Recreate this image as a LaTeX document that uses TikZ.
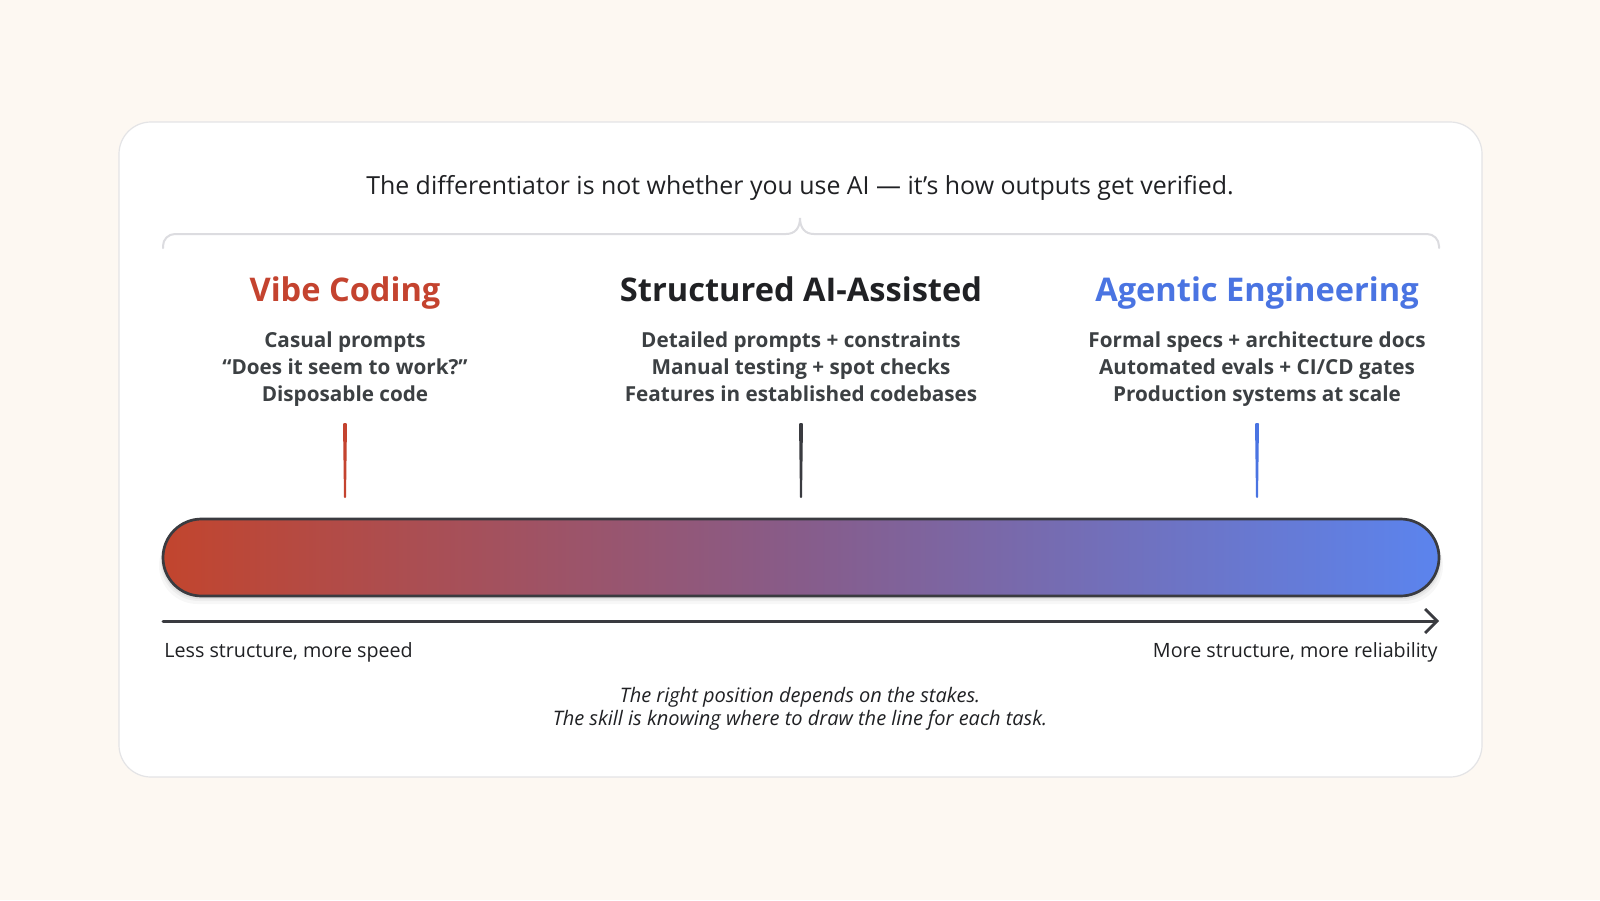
\documentclass[tikz,border=0pt]{standalone}
\usepackage{fontspec}
\setmainfont{Open Sans}
\usetikzlibrary{arrows.meta}
\definecolor{bgc}{HTML}{FDF8F2}
\definecolor{cardline}{HTML}{E4E4E6}
\definecolor{bracketc}{HTML}{DCDCE0}
\definecolor{ink}{HTML}{202124}
\definecolor{subink}{HTML}{3C4043}
\definecolor{vred}{HTML}{C4432F}
\definecolor{vblue}{HTML}{4A74E2}
\definecolor{gleft}{HTML}{C2452E}
\definecolor{gmid}{HTML}{875C8A}
\definecolor{gright}{HTML}{5B84EE}
\definecolor{barline}{HTML}{3A3B40}
\tikzset{
  titletext/.style={font=\fontsize{12.45}{14}\selectfont, text=ink, anchor=base, inner sep=0pt},
  headtext/.style={font=\fontsize{16.3}{18}\selectfont\bfseries, anchor=base, inner sep=0pt},
  subtext/.style={font=\fontsize{10.35}{12}\selectfont\bfseries, text=subink, anchor=base, inner sep=0pt},
  endtext/.style={font=\fontsize{9.85}{11}\selectfont, text=ink, inner sep=0pt},
  notetext/.style={font=\fontsize{10}{11}\selectfont\itshape, text=ink, anchor=base, inner sep=0pt},
  bracketline/.style={draw=bracketc, line width=1pt, line cap=round},
  axisline/.style={draw=barline, line width=1.5pt, line cap=round, -{Straight Barb[length=6pt,width=12pt,line width=1.4pt]}},
}
\begin{document}
\begin{tikzpicture}[x=0.5pt,y=-0.5pt]
\useasboundingbox (0,0) rectangle (1600,900);
\fill[bgc] (0,0) rectangle (1600,900);
% card
\draw[cardline, line width=0.6pt, fill=white, rounded corners=16pt] (119,122) rectangle (1482,777);
% title
\node[titletext] (title) at (800,194) {The differentiator is not whether you use AI — it’s how outputs get verified.};
% bracket
\draw[bracketline] (163,248) [rounded corners=6pt] -- (163,234) [sharp corners] -- (786,234)
  .. controls (795,234) and (800,228) .. (800,218)
  .. controls (800,228) and (805,234) .. (814,234) [rounded corners=6pt] -- (1439,234) -- (1439,248);
% headings
\node[headtext, text=vred] (vibe) at (345,301) {Vibe Coding};
\node[headtext, text=ink] (struct) at (801,301) {Structured AI-Assisted};
\node[headtext, text=vblue] (agent) at (1257,301) {Agentic Engineering};
% sub lines
\node[subtext] (v1) at (345,347) {Casual prompts};
\node[subtext] (v2) at (345,374) {“Does it seem to work?”};
\node[subtext] (v3) at (345,401) {Disposable code};
\node[subtext] (s1) at (801,347) {Detailed prompts + constraints};
\node[subtext] (s2) at (801,374) {Manual testing + spot checks};
\node[subtext] (s3) at (801,401) {Features in established codebases};
\node[subtext] (a1) at (1257,347) {Formal specs + architecture docs};
\node[subtext] (a2) at (1257,374) {Automated evals + CI/CD gates};
\node[subtext] (a3) at (1257,401) {Production systems at scale};
% ticks
\fill[vred, rounded corners=0.5pt] (343,423) -- (347,423) -- (346,498) -- (344,498) -- cycle;
\fill[barline, rounded corners=0.5pt] (799,423) -- (803,423) -- (802,498) -- (800,498) -- cycle;
\fill[vblue, rounded corners=0.5pt] (1255,423) -- (1259,423) -- (1258,498) -- (1256,498) -- cycle;
% bar shadow
\foreach \d/\o in {8/0.03,5/0.04,3/0.05}{
  \fill[black, opacity=\o, rounded corners=19.25pt] (163-\d/2,519+\d) rectangle (1439+\d/2,596+\d);
}
% gradient bar
\shade[left color=gleft, right color=gright, middle color=gmid, rounded corners=19.25pt] (163,519) rectangle (1439,596);
\draw[barline, line width=1.35pt, rounded corners=19.25pt] (163,519) rectangle (1439,596);
% axis
\coordinate (axL) at (163,621);
\coordinate (axR) at (1439,621);
\draw[axisline] (axL) -- (axR);
\node[endtext, anchor=base west] (less) at (164,657) {Less structure, more speed};
\node[endtext, anchor=base east] (more) at (1438,657) {More structure, more reliability};
% note
\node[notetext] (note1) at (800,702) {The right position depends on the stakes.};
\node[notetext] (note2) at (800,725) {The skill is knowing where to draw the line for each task.};
\end{tikzpicture}
\end{document}
